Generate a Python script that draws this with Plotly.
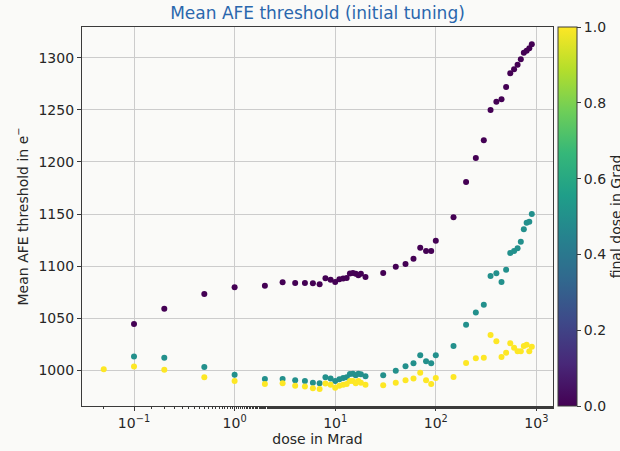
import plotly.graph_objects as go

# Accumulated dose (Mrad) at which each scan was taken
dose_main = [0.1, 0.2, 0.5, 1, 2, 3, 4, 5, 6, 7, 8, 9, 10, 11, 12, 13, 14, 15, 16, 17, 18, 20,
             30, 40, 50, 60, 70, 80, 90, 100, 150, 200, 250, 300, 350, 400, 450, 500,
             550, 600, 650, 700, 750, 800, 850, 900]
dose_full = [0.05] + dose_main

# Mean AFE threshold (electrons) per chip, coloured by its final dose (Grad)
final_dose = [0.0, 0.5, 1.0]

thr_chip_a = [1044.4, 1059.1, 1073.2, 1079.7, 1081.2, 1084.5, 1083.8, 1083.8, 1083.5, 1082.5,
              1088.3, 1087.0, 1084.7, 1087.3, 1088.0, 1088.6, 1093.0, 1093.3, 1092.7, 1091.2,
              1092.7, 1089.5, 1093.4, 1099.4, 1102.0, 1107.1, 1117.7, 1114.5, 1114.5, 1124.4,
              1146.8, 1180.7, 1203.7, 1220.7, 1249.8, 1257.8, 1260.1, 1271.9, 1285.0, 1288.9,
              1293.3, 1298.5, 1304.8, 1306.7, 1309.0, 1312.9]
thr_chip_b = [1013.1, 1012.1, 1003.2, 995.8, 991.6, 991.6, 990.4, 989.7, 988.1, 987.5,
              993.3, 992.0, 989.7, 991.4, 992.6, 993.3, 996.4, 996.7, 995.2, 996.7,
              996.2, 994.2, 995.2, 999.6, 1003.8, 1006.7, 1014.4, 1008.6, 1006.7, 1014.4,
              1023.3, 1043.8, 1055.5, 1063.0, 1090.5, 1093.1, 1084.7, 1096.5, 1112.6, 1114.5,
              1117.1, 1123.4, 1135.3, 1141.7, 1142.6, 1150.0]
thr_chip_c = [1001.0, 1003.5, 1000.6, 993.3, 989.7, 986.9, 987.5, 985.2, 984.3, 982.7, 982.0,
              987.2, 986.2, 983.3, 985.2, 986.2, 986.9, 989.7, 989.7, 987.5, 989.7,
              988.1, 986.2, 985.6, 988.1, 990.4, 992.0, 997.7, 990.4, 986.9, 992.6,
              993.6, 1007.0, 1011.5, 1012.1, 1033.9, 1027.8, 1012.8, 1016.9, 1025.9, 1021.7,
              1018.2, 1018.2, 1023.3, 1024.6, 1018.2, 1022.6]

x_tickvals = [0.1, 1, 10, 100, 1000]
x_ticktext = ["10<sup>\u22121</sup>", "10<sup>0</sup>", "10<sup>1</sup>",
              "10<sup>2</sup>", "10<sup>3</sup>"]
y_tickvals = [1000, 1050, 1100, 1150, 1200, 1250, 1300]
cb_tickvals = [0.0, 0.2, 0.4, 0.6, 0.8, 1.0]

series = [(dose_main, thr_chip_a, final_dose[0]),
          (dose_main, thr_chip_b, final_dose[1]),
          (dose_full, thr_chip_c, final_dose[2])]

FONT = "DejaVu Sans"
INK = "#262626"
FRAME = "#3a3a3a"
BG = "#fafaf8"
FS = 14

fig = go.Figure()
for xs, ys, fd in series:
    fig.add_trace(go.Scatter(
        x=xs, y=ys, mode="markers",
        marker=dict(size=6, color=[fd] * len(xs), coloraxis="coloraxis",
                    line=dict(width=0)),
        showlegend=False,
    ))

fig.update_layout(
    width=620, height=451,
    margin=dict(l=82, r=67, t=27, b=45, autoexpand=False),
    paper_bgcolor=BG, plot_bgcolor=BG,
    font=dict(family=FONT, size=FS, color=INK),
    title=dict(text="Mean AFE threshold (initial tuning)",
               x=(82 + 553) / 2 / 620, xanchor="center",
               y=1 - 13 / 451, yanchor="middle",
               font=dict(family=FONT, size=17, color="#2a67ad")),
    coloraxis=dict(
        colorscale="Viridis", cmin=0, cmax=1,
        colorbar=dict(
            x=1.011, xanchor="left", y=0.5, yanchor="middle",
            len=1, lenmode="fraction", thickness=19,
            xpad=0, ypad=0,
            outlinewidth=1, outlinecolor=FRAME,
            tickvals=cb_tickvals, ticktext=[f"{v:.1f}" for v in cb_tickvals],
            ticks="outside", ticklen=4, tickcolor=FRAME,
            tickfont=dict(family=FONT, size=FS, color=INK),
            title=dict(text="final dose in Grad", side="right",
                       font=dict(family=FONT, size=FS, color=INK)),
        ),
    ),
)

fig.update_xaxes(
    type="log", range=[-1.517, 3.165],
    tickvals=x_tickvals, ticktext=x_ticktext,
    ticks="outside", ticklen=4, tickcolor=FRAME,
    showgrid=True, gridcolor="#cccccc", gridwidth=1,
    showline=True, linecolor=FRAME, linewidth=1.2, mirror=True,
    zeroline=False,
    minor=dict(ticks="outside", ticklen=2, tickcolor=FRAME, showgrid=False),
    title=dict(text="dose in Mrad", standoff=4, font=dict(family=FONT, size=FS, color=INK)),
)
fig.update_yaxes(
    range=[965.7, 1329.5],
    tickvals=y_tickvals,
    ticks="outside", ticklen=4, tickcolor=FRAME,
    showgrid=True, gridcolor="#cccccc", gridwidth=1,
    showline=True, linecolor=FRAME, linewidth=1.2, mirror=True,
    zeroline=False,
    title=dict(text="Mean AFE threshold in e<sup>\u2212</sup>", standoff=6,
               font=dict(family=FONT, size=FS, color=INK)),
)

fig.write_html("out.html")
